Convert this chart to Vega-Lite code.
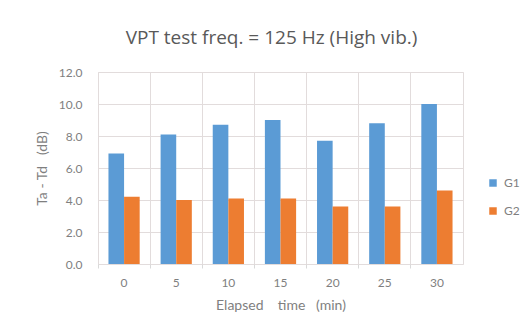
{
  "$schema": "https://vega.github.io/schema/vega-lite/v6.json",
  "width": 365,
  "height": 192,
  "autosize": {"type": "none"},
  "padding": {"left": 98, "top": 72, "right": 67, "bottom": 65},
  "background": "white",
  "title": {
    "text": "VPT test freq. = 125 Hz (High vib.)",
    "font": "Open Sans",
    "fontSize": 19,
    "fontWeight": "normal",
    "color": "#595959",
    "anchor": "middle",
    "baseline": "alphabetic",
    "offset": 3,
    "dx": -9
  },
  "data": {
    "values": [
      {"time": "0", "group": "G1", "value": 6.9},
      {"time": "0", "group": "G2", "value": 4.2},
      {"time": "5", "group": "G1", "value": 8.1},
      {"time": "5", "group": "G2", "value": 4.0},
      {"time": "10", "group": "G1", "value": 8.7},
      {"time": "10", "group": "G2", "value": 4.1},
      {"time": "15", "group": "G1", "value": 9.0},
      {"time": "15", "group": "G2", "value": 4.1},
      {"time": "20", "group": "G1", "value": 7.7},
      {"time": "20", "group": "G2", "value": 3.6},
      {"time": "25", "group": "G1", "value": 8.8},
      {"time": "25", "group": "G2", "value": 3.6},
      {"time": "30", "group": "G1", "value": 10.0},
      {"time": "30", "group": "G2", "value": 4.6}
    ]
  },
  "mark": {"type": "bar"},
  "encoding": {
    "x": {
      "field": "time",
      "type": "ordinal",
      "sort": ["0", "5", "10", "15", "20", "25", "30"],
      "scale": {"paddingInner": 0, "paddingOuter": 0},
      "axis": {
        "title": "Elapsed\u00a0\u00a0\u00a0\u00a0time\u00a0\u00a0\u00a0(min)",
        "titleFontSize": 14,
        "labelAngle": 0,
        "grid": true,
        "bandPosition": 0,
        "gridColor": "#e2dcdc",
        "ticks": true,
        "tickSize": 4,
        "tickColor": "#d9d9d9",
        "domain": false,
        "labelPadding": 9,
        "titlePadding": 10
      }
    },
    "xOffset": {
      "field": "group",
      "type": "nominal",
      "scale": {"paddingInner": 0, "paddingOuter": 0.67}
    },
    "y": {
      "field": "value",
      "type": "quantitative",
      "scale": {"domain": [0, 12]},
      "axis": {
        "title": "Ta\u00a0-\u00a0Td\u00a0\u00a0\u00a0(dB)",
        "titleFontSize": 14,
        "values": [0, 2, 4, 6, 8, 10, 12],
        "format": ".1f",
        "grid": true,
        "gridColor": "#e2dcdc",
        "ticks": false,
        "domain": false,
        "labelPadding": 16,
        "titlePadding": 9
      }
    },
    "color": {
      "field": "group",
      "type": "nominal",
      "scale": {"domain": ["G1", "G2"], "range": ["#5b9bd5", "#ed7d31"]},
      "legend": {
        "title": null,
        "orient": "none",
        "legendX": 389,
        "legendY": 105,
        "symbolType": "square",
        "symbolSize": 56,
        "symbolStrokeWidth": 0,
        "rowPadding": 16,
        "labelFontSize": 12,
        "labelOffset": 5
      }
    }
  },
  "config": {
    "font": "Lato",
    "view": {"stroke": "#e2dcdc"},
    "axis": {
      "labelFont": "Lato",
      "titleFont": "Lato",
      "labelFontSize": 12,
      "titleFontWeight": "normal",
      "labelColor": "#7f7f7f",
      "titleColor": "#7f7f7f"
    },
    "legend": {
      "labelFont": "Lato",
      "labelColor": "#7f7f7f"
    }
  }
}
